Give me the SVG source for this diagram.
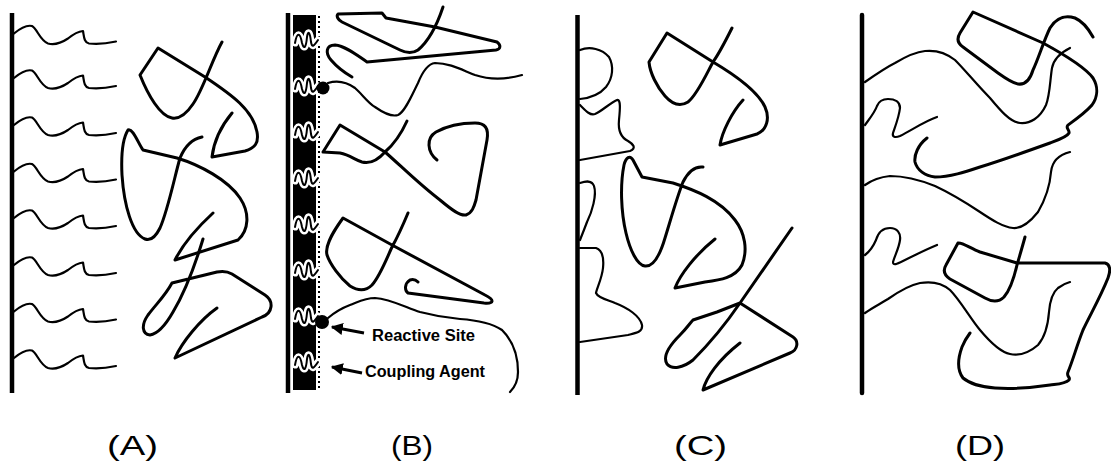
<svg xmlns="http://www.w3.org/2000/svg" width="1111" height="465" viewBox="0 0 1111 465">
  <style>
    .wall { stroke: #000; stroke-width: 4.5; fill: none; }
    .coil { stroke: #000; stroke-width: 3; fill: none; stroke-linecap: round; stroke-linejoin: round; }
    .chain { stroke: #000; stroke-width: 2.2; fill: none; stroke-linecap: round; stroke-linejoin: round; }
    .label { font-family: "Liberation Sans", Arial, sans-serif; font-size: 28px; fill: #000; }
    .note { font-family: "Liberation Sans", Arial, sans-serif; font-size: 16px; font-weight: bold; fill: #000; }
  </style>
  <defs>
    <!-- short grafted wave used along the surface in panel A -->
    <path id="wave" d="M0,0 C6,-5 12,-9 18,-7.5 C23,-5 26,7 34,10 C41,12 48,9 54,5 C59,1 64,-2 69,-2.5 C70,3 70,9 75,10 C83,11 93,10 102,8"/>
    <!-- coupling-agent squiggle inside the dark layer of panel B -->
    <path id="squig" d="M295,3 C297,-8 300,-8 302,3 C304,10 306,8 307,-3 C308,-10 310,-8 311,2 C312,8 314,6 318,0"/>
    <marker id="arrow" viewBox="0 0 10 10" refX="9" refY="5" markerWidth="4" markerHeight="4" orient="auto" markerUnits="strokeWidth">
      <path d="M0,0 L10,5 L0,10 Z" fill="#000"/>
    </marker>
  </defs>

  <!-- Panel A: grafted short chains and free coils -->
  <g id="panel-a">
    <line class="wall" x1="12" y1="13" x2="12" y2="393"/>
    <g class="chain" stroke-width="2.5">
      <use href="#wave" transform="translate(14,33.5)"/>
      <use href="#wave" transform="translate(14,78)"/>
      <use href="#wave" transform="translate(14,125)"/>
      <use href="#wave" transform="translate(14,171.5)"/>
      <use href="#wave" transform="translate(14,218)"/>
      <use href="#wave" transform="translate(14,265)"/>
      <use href="#wave" transform="translate(14,311.5)"/>
      <use href="#wave" transform="translate(14,358)"/>
    </g>
    <path class="coil" d="M222,42 C212,60 203,90 193,104 C185,116 178,119 172,118 C160,116 148,95 140,75 L158,48 L205,77 C232,95 253,110 257,132 C259,143 255,148 245,151 L212,157 C214,140 222,125 232,113"/>
    <path class="coil" d="M202,137 C192,139 185,146 180,158 C175,175 168,210 160,228 C155,238 150,241 145,239 C132,234 124,205 122,175 C121,155 123,138 128,130 C133,128 138,143 143,150 L177,158 C200,165 228,180 240,198 C250,213 249,230 238,240 L175,260 C185,240 200,225 213,213"/>
    <path class="coil" d="M203,239 C196,262 185,292 173,312 C165,326 157,334 150,335 C142,334 141,325 148,315 C157,303 165,296 172,283 L217,272 C222,271 227,271 232,274 L265,295 C274,301 273,313 262,317 L175,358 C182,342 200,320 217,308"/>
  </g>

  <!-- Panel B: coupling-agent layer with reactive sites -->
  <g id="panel-b">
    <line class="wall" x1="288" y1="13" x2="288" y2="393"/>
    <rect x="293" y="15" width="23" height="375" fill="#000"/>
    <line x1="319" y1="16" x2="319" y2="390" stroke="#000" stroke-width="2" stroke-dasharray="2 3"/>
    <g fill="none" stroke="#fff" stroke-width="7" stroke-linecap="round" stroke-linejoin="round">
      <use href="#squig" transform="translate(0,40)"/>
      <use href="#squig" transform="translate(0,86)"/>
      <use href="#squig" transform="translate(0,132)"/>
      <use href="#squig" transform="translate(0,178)"/>
      <use href="#squig" transform="translate(0,224)"/>
      <use href="#squig" transform="translate(0,270)"/>
      <use href="#squig" transform="translate(0,316)"/>
      <use href="#squig" transform="translate(0,362)"/>
    </g>
    <g fill="none" stroke="#000" stroke-width="2" stroke-linecap="round" stroke-linejoin="round">
      <use href="#squig" transform="translate(0,40)"/>
      <use href="#squig" transform="translate(0,86)"/>
      <use href="#squig" transform="translate(0,132)"/>
      <use href="#squig" transform="translate(0,178)"/>
      <use href="#squig" transform="translate(0,224)"/>
      <use href="#squig" transform="translate(0,270)"/>
      <use href="#squig" transform="translate(0,316)"/>
      <use href="#squig" transform="translate(0,362)"/>
    </g>
    <circle cx="323" cy="88" r="6.5" fill="#000"/>
    <circle cx="322" cy="322" r="7" fill="#000"/>
    <path class="coil" stroke-width="2.6" d="M443,7 C438,22 430,40 418,50 C412,54 406,53 400,50 L342,22 C338,20 336,16 338,14 L382,13 L386,18 L435,27 L497,42 C501,45 501,49 496,50 L367,62 C358,56 346,46 335,45 C326,45 325,53 331,60 C337,67 345,73 352,77"/>
    <path class="chain" d="M328,83 C338,80 348,83 355,88 C362,94 368,103 375,107 C385,114 392,117 398,115 C405,112 412,95 418,83 C422,73 427,64 435,63 C450,63 462,70 475,75 C490,80 508,79 522,75"/>
    <path class="coil" stroke-width="2.6" d="M407,121 C402,132 393,145 385,152 C378,160 370,164 362,162 C355,160 350,155 340,153 L323,152 L340,125 L385,152 C400,165 420,185 440,200 C452,210 460,216 466,215 C472,213 474,207 476,200 L487,140 C489,128 485,123 475,123 C460,123 445,127 436,132 C426,138 427,152 437,160"/>
    <path class="coil" stroke-width="2.6" d="M408,213 C403,225 397,238 392,247 C386,260 380,276 372,285 C366,291 358,291 350,286 C340,278 330,264 327,255 C325,247 330,236 343,218 L392,245 L485,295 C495,300 494,304 484,303 L408,293 C404,290 405,283 410,280 C413,279 416,280 418,282"/>
    <path class="chain" d="M328,318 C335,312 342,308 350,305 C358,302 365,298 375,298 C390,299 405,307 420,312 C435,316 448,318 460,319 C475,320 490,322 502,330 C512,340 518,355 518,372 C518,380 515,387 510,392"/>
  </g>

  <!-- Callouts for panel B -->
  <g id="callouts">
    <line x1="364" y1="333" x2="332" y2="327" stroke="#000" stroke-width="3" marker-end="url(#arrow)"/>
    <line x1="362" y1="373" x2="332" y2="367" stroke="#000" stroke-width="3" marker-end="url(#arrow)"/>
    <text class="note" x="372" y="341" textLength="103" lengthAdjust="spacingAndGlyphs">Reactive Site</text>
    <text class="note" x="365" y="377" textLength="120" lengthAdjust="spacingAndGlyphs">Coupling Agent</text>
  </g>

  <!-- Panel C: chains adsorbed in loops on the surface -->
  <g id="panel-c">
    <line class="wall" x1="577.5" y1="15" x2="577.5" y2="395"/>
    <path class="chain" stroke-width="2.5" d="M580,50 C590,46 602,49 609,57 C614,66 613,78 606,87 C600,94 590,98 580,99"/>
    <path class="chain" stroke-width="2.5" d="M580,105 C585,110 590,116 595,114 C602,111 610,103 617,100 C621,99 620,110 619,120 C618,130 620,137 628,141 C633,144 637,148 630,151 L580,160"/>
    <path class="chain" stroke-width="2.5" d="M580,183 C586,181 592,180 594,186 C597,195 592,212 587,222 C584,230 582,235 580,240"/>
    <path class="chain" stroke-width="2.5" d="M580,248 L596,248 C602,250 604,258 603,268 C602,278 597,288 596,293 C598,298 608,300 615,303 C628,308 640,316 642,325 C643,332 636,333 628,335 L580,342"/>
    <path class="coil" d="M732,28 C725,42 718,55 713,62 C706,75 697,95 688,102 C680,107 672,104 665,96 C657,87 650,73 649,62 L667,33 L713,62 C735,75 758,92 765,107 C770,118 767,130 757,134 L720,145 C722,132 732,112 743,100"/>
    <path class="coil" d="M703,167 C695,166 688,172 683,182 C677,197 670,222 665,238 C660,255 654,267 645,266 C637,265 630,250 626,233 C621,212 620,185 624,165 C626,157 630,155 633,160 L642,177 L673,183 C695,190 720,200 735,220 C745,233 748,250 742,265 C735,278 720,280 705,282 L675,288 C680,275 695,255 715,239"/>
    <path class="coil" d="M792,228 L740,303 C725,325 708,345 693,360 C683,368 672,370 667,364 C662,356 670,345 680,335 C687,328 690,323 693,320 L717,312 L740,303 L793,337 C799,341 798,350 790,353 L703,390 C706,378 718,360 740,343"/>
  </g>

  <!-- Panel D: tethered chains interpenetrating free coils -->
  <g id="panel-d">
    <line class="wall" x1="862" y1="15" x2="862" y2="393" stroke-linecap="round"/>
    <path class="chain" d="M865,82 C875,75 885,68 895,63 C905,57 915,52 925,51 C935,50 945,52 955,60 C965,70 978,86 990,98 C1000,110 1010,122 1020,123 C1030,124 1040,118 1046,105 C1050,95 1050,80 1052,68 C1054,58 1062,52 1070,48"/>
    <path class="coil" d="M1093,37 C1088,28 1082,21 1075,18 C1065,15 1057,17 1050,28 C1044,40 1038,60 1033,70 C1030,80 1025,85 1018,84 C1012,83 1005,78 998,73 L963,47 C957,43 957,38 960,33 L973,12 L1043,43 C1065,55 1085,67 1093,78 C1099,88 1097,98 1092,105 C1085,113 1075,120 1068,125 C1065,128 1070,130 1069,133 C1067,137 1058,140 1050,143 C1025,152 1000,161 980,167 C965,172 950,177 935,177 C925,176 917,170 915,162 C914,155 918,145 927,138"/>
    <path class="chain" d="M865,125 C870,118 875,112 877,106 C879,101 882,99 888,99 C895,99 900,102 900,108 C899,117 895,127 893,133 C892,137 895,138 900,136 C912,130 925,121 937,117"/>
    <path class="chain" d="M865,185 C872,180 880,177 890,176 C905,176 920,180 935,186 C950,193 965,202 980,212 C992,220 1003,227 1013,228 C1022,229 1030,222 1038,212 C1045,200 1050,185 1051,172 C1052,162 1058,155 1070,152"/>
    <path class="chain" d="M865,255 C869,252 873,247 876,240 C878,233 882,228 890,228 C897,228 901,233 900,240 C899,248 895,255 893,262 C893,266 897,264 903,261 C915,255 927,249 937,245"/>
    <path class="coil" d="M1025,237 C1022,248 1019,258 1017,265 C1014,278 1010,290 1004,297 C999,302 992,302 985,298 L950,279 C944,275 943,270 946,265 L958,243 C962,242 970,248 980,252 L1017,263 L1105,263 C1110,264 1111,270 1108,278 C1100,298 1090,315 1083,330 C1077,345 1073,360 1068,372 C1066,377 1071,377 1069,380 C1065,384 1058,384 1050,385 C1030,388 1010,389 995,388 C982,387 970,384 963,378 C957,370 958,358 962,347 C964,342 967,337 970,333"/>
    <path class="chain" d="M865,313 C872,308 880,304 888,299 C898,292 910,285 920,283 C932,281 942,283 950,290 C960,300 970,318 980,330 C990,342 1000,352 1010,354 C1020,356 1030,352 1038,345 C1045,337 1048,325 1049,312 C1050,300 1053,292 1058,288 C1062,285 1066,283 1070,282"/>
  </g>

  <!-- Panel captions -->
  <g id="captions">
    <text class="label" x="107" y="455" textLength="51" lengthAdjust="spacingAndGlyphs">(A)</text>
    <text class="label" x="391" y="455" textLength="42" lengthAdjust="spacingAndGlyphs">(B)</text>
    <text class="label" x="674" y="455" textLength="53" lengthAdjust="spacingAndGlyphs">(C)</text>
    <text class="label" x="955" y="455" textLength="50" lengthAdjust="spacingAndGlyphs">(D)</text>
  </g>
</svg>
